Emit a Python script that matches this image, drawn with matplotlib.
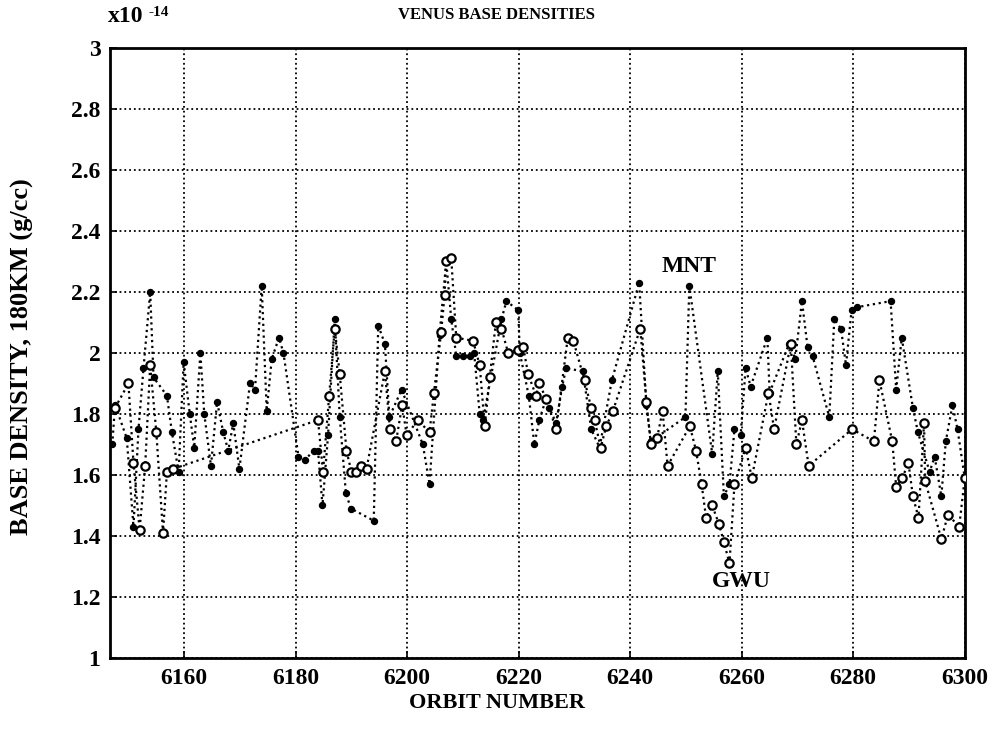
import matplotlib
matplotlib.use("Agg")
import matplotlib.pyplot as plt

# MNT series (filled dots)
mnt_orbit = [6147.1, 6147.6, 6149.7, 6150.9, 6151.8, 6152.7, 6153.9, 6154.5, 6156.9, 6157.8,
             6159.0, 6159.9, 6161.0, 6161.8, 6162.9, 6163.6, 6164.8, 6165.9, 6167.0, 6167.9,
             6168.8, 6169.9, 6171.8, 6172.7, 6173.9, 6174.8, 6175.7, 6177.0, 6177.8, 6180.5,
             6181.7, 6183.2, 6184.0, 6184.8, 6185.8, 6187.0, 6187.9, 6189.0, 6189.9, 6194.0,
             6194.8, 6196.0, 6196.8, 6199.0, 6202.8, 6204.0, 6205.8, 6207.0, 6207.9, 6208.8,
             6210.0, 6211.2, 6212.0, 6213.0, 6213.6, 6216.9, 6217.8, 6219.9, 6220.2, 6221.8,
             6222.8, 6223.7, 6224.9, 6225.5, 6226.7, 6227.8, 6228.5, 6231.5, 6233.0, 6234.5,
             6236.7, 6241.6, 6242.9, 6243.7, 6249.9, 6250.6, 6254.7, 6255.7, 6256.8, 6257.8,
             6258.7, 6259.8, 6260.7, 6261.6, 6264.6, 6265.0, 6268.5, 6269.6, 6270.8, 6271.8,
             6272.7, 6275.7, 6276.6, 6277.8, 6278.7, 6279.7, 6280.7, 6286.7, 6287.7, 6288.7,
             6290.7, 6291.6, 6293.7, 6294.6, 6295.8, 6296.6, 6297.8, 6298.7, 6300.0]
mnt_density = [1.70, 1.83, 1.72, 1.43, 1.75, 1.95, 2.20, 1.92, 1.86, 1.74,
               1.61, 1.97, 1.80, 1.69, 2.00, 1.80, 1.63, 1.84, 1.74, 1.68,
               1.77, 1.62, 1.90, 1.88, 2.22, 1.81, 1.98, 2.05, 2.00, 1.66,
               1.65, 1.68, 1.68, 1.50, 1.73, 2.11, 1.79, 1.54, 1.49, 1.45,
               2.09, 2.03, 1.79, 1.88, 1.70, 1.57, 2.06, 2.30, 2.11, 1.99,
               1.99, 1.99, 2.00, 1.80, 1.78, 2.11, 2.17, 2.14, 2.00, 1.86,
               1.70, 1.78, 1.85, 1.82, 1.77, 1.89, 1.95, 1.94, 1.75, 1.69,
               1.91, 2.23, 1.83, 1.71, 1.79, 2.22, 1.67, 1.94, 1.53, 1.57,
               1.75, 1.73, 1.95, 1.89, 2.05, 1.87, 2.03, 1.98, 2.17, 2.02,
               1.99, 1.79, 2.11, 2.08, 1.96, 2.14, 2.15, 2.17, 1.88, 2.05,
               1.82, 1.74, 1.61, 1.66, 1.53, 1.71, 1.83, 1.75, 1.59]

# GWU series (open circles)
gwu_orbit = [6147.6, 6150.0, 6150.9, 6152.0, 6153.0, 6153.9, 6155.0, 6156.2, 6156.9, 6158.0,
             6184.0, 6184.9, 6186.0, 6187.0, 6187.9, 6189.1, 6190.0, 6190.9, 6191.8, 6192.7,
             6196.0, 6196.9, 6198.0, 6199.1, 6199.9, 6201.9, 6204.0, 6204.8, 6206.1, 6206.7,
             6207.0, 6207.9, 6208.8, 6211.8, 6213.0, 6213.9, 6214.8, 6215.9, 6216.9, 6218.1,
             6219.9, 6220.8, 6221.7, 6223.1, 6223.7, 6224.9, 6226.7, 6228.8, 6229.8, 6231.8,
             6233.0, 6233.6, 6234.7, 6235.7, 6236.9, 6241.8, 6242.9, 6243.7, 6244.8, 6245.8,
             6246.7, 6250.7, 6251.8, 6252.8, 6253.6, 6254.7, 6255.9, 6256.8, 6257.8, 6258.7,
             6260.7, 6261.8, 6264.8, 6265.8, 6268.8, 6269.8, 6270.8, 6272.0, 6279.8, 6283.7,
             6284.7, 6287.0, 6287.7, 6288.8, 6289.9, 6290.7, 6291.7, 6292.7, 6292.9, 6295.8,
             6297.0, 6299.0, 6300.0]
gwu_density = [1.82, 1.90, 1.64, 1.42, 1.63, 1.96, 1.74, 1.41, 1.61, 1.62,
               1.78, 1.61, 1.86, 2.08, 1.93, 1.68, 1.61, 1.61, 1.63, 1.62,
               1.94, 1.75, 1.71, 1.83, 1.73, 1.78, 1.74, 1.87, 2.07, 2.19,
               2.30, 2.31, 2.05, 2.04, 1.96, 1.76, 1.92, 2.10, 2.08, 2.00,
               2.01, 2.02, 1.93, 1.86, 1.90, 1.85, 1.75, 2.05, 2.04, 1.91,
               1.82, 1.78, 1.69, 1.76, 1.81, 2.08, 1.84, 1.70, 1.72, 1.81,
               1.63, 1.76, 1.68, 1.57, 1.46, 1.50, 1.44, 1.38, 1.31, 1.57,
               1.69, 1.59, 1.87, 1.75, 2.03, 1.70, 1.78, 1.63, 1.75, 1.71,
               1.91, 1.71, 1.56, 1.59, 1.64, 1.53, 1.46, 1.77, 1.58, 1.39,
               1.47, 1.43, 1.59]

x_ticks = [6160, 6180, 6200, 6220, 6240, 6260, 6280, 6300]
y_ticks = [1, 1.2, 1.4, 1.6, 1.8, 2, 2.2, 2.4, 2.6, 2.8, 3]
y_ticklabels = ["1", "1.2", "1.4", "1.6", "1.8", "2", "2.2", "2.4", "2.6", "2.8", "3"]

plt.rcParams['font.family'] = ['Liberation Serif', 'DejaVu Serif']
plt.rcParams['font.weight'] = 'bold'

fig = plt.figure(figsize=(9.95, 7.44), dpi=100)
ax = fig.add_axes([0.1106, 0.1156, 0.859, 0.82])

ax.plot(mnt_orbit, mnt_density, linestyle=':', color='black', linewidth=1.6,
        marker='o', markersize=4.3, markerfacecolor='black', markeredgecolor='black', zorder=3)
ax.plot(gwu_orbit, gwu_density, linestyle=':', color='black', linewidth=1.6,
        marker='o', markersize=6.0, markerfacecolor='white', markeredgecolor='black',
        markeredgewidth=1.6, zorder=3)

ax.set_xlim(6146.7, 6300)
ax.set_ylim(1, 3)
ax.set_xticks(x_ticks)
ax.set_yticks(y_ticks)
ax.set_yticklabels(y_ticklabels)
ax.tick_params(direction='in', length=5, width=1.2, labelsize=17, pad=7)
for lbl in ax.get_xticklabels() + ax.get_yticklabels():
    lbl.set_fontweight('bold')
ax.grid(True, linestyle=':', color='black', linewidth=1.3)
for s in ax.spines.values():
    s.set_linewidth(2)

ax.text(6250.5, 2.285, "MNT", fontsize=17, fontweight='bold', ha='center', va='center')
ax.text(6260.0, 1.25, "GWU", fontsize=17, fontweight='bold', ha='center', va='center')

fig.text(497/995, 1 - 15/744, "VENUS BASE DENSITIES", fontsize=12, fontweight='bold',
         ha='center', va='center')
fig.text(108/995, 1 - 17/744, "x10", fontsize=17, fontweight='bold', ha='left', va='center')
fig.text(149/995, 1 - 12/744, "-14", fontsize=11, fontweight='bold', ha='left', va='center')
fig.text(497/995, 1 - 703/744, "ORBIT NUMBER", fontsize=16, fontweight='bold',
         ha='center', va='center')
fig.text(22/995, 1 - 357/744, "BASE DENSITY, 180KM (g/cc)", fontsize=19, fontweight='bold',
         ha='center', va='center', rotation=90)

fig.savefig("out.png", dpi=100)
